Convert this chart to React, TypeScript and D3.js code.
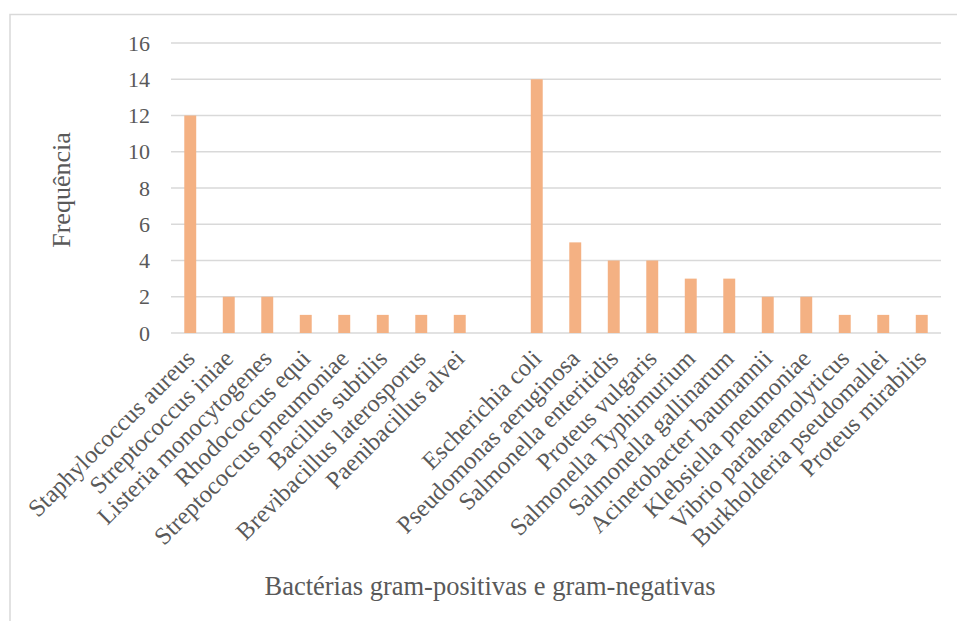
import React from "react";
import * as d3 from "d3";

const categories: string[] = [
  "Staphylococcus aureus",
  "Streptococcus iniae",
  "Listeria monocytogenes",
  "Rhodococcus equi",
  "Streptococcus pneumoniae",
  "Bacillus subtilis",
  "Brevibacillus laterosporus",
  "Paenibacillus alvei",
  "",
  "Escherichia coli",
  "Pseudomonas aeruginosa",
  "Salmonella enteritidis",
  "Proteus vulgaris",
  "Salmonella Typhimurium",
  "Salmonella gallinarum",
  "Acinetobacter baumannii",
  "Klebsiella pneumoniae",
  "Vibrio parahaemolyticus",
  "Burkholderia pseudomallei",
  "Proteus mirabilis",
];

const values: (number | null)[] = [12, 2, 2, 1, 1, 1, 1, 1, null, 14, 5, 4, 4, 3, 3, 2, 2, 1, 1, 1];

const yTicks: number[] = [0, 2, 4, 6, 8, 10, 12, 14, 16];

const yTitle = "Frequência";
const xTitle = "Bactérias gram-positivas e gram-negativas";

const W = 957;
const H = 621;
const plotLeft = 171;
const plotRight = 941;
const plotTop = 43;
const plotBottom = 333;

const textColor = "#595959";
const gridColor = "#D9D9D9";
const barColor = "#F4B183";
const font = "Liberation Serif";

export default function App() {
  const x = d3
    .scaleBand<number>()
    .domain(categories.map((_, i) => i))
    .range([plotLeft, plotRight])
    .paddingInner(0)
    .paddingOuter(0);
  const y = d3.scaleLinear().domain([0, 16]).range([plotBottom, plotTop]);
  const barW = x.bandwidth() * 0.31;

  return (
    <svg
      width={W}
      height={H}
      style={{ position: "absolute", left: 0, top: 0, background: "#fff" }}
    >
      <rect x={10} y={14.5} width={W + 20} height={H + 20} fill="#fff" stroke={gridColor} strokeWidth={1.5} />
      {yTicks.map((t) => (
        <g key={t}>
          <line x1={plotLeft} x2={plotRight} y1={y(t)} y2={y(t)} stroke={gridColor} strokeWidth={1.5} />
          <text x={150} y={y(t) + 7.5} textAnchor="end" fontSize={22} fill={textColor} style={{ fontFamily: font }}>
            {t}
          </text>
        </g>
      ))}
      {values.map((v, i) =>
        v == null ? null : (
          <rect
            key={i}
            x={(x(i) as number) + x.bandwidth() / 2 - barW / 2}
            y={y(v)}
            width={barW}
            height={y(0) - y(v)}
            fill={barColor}
          />
        )
      )}
      {categories.map((c, i) => {
        const cx = (x(i) as number) + x.bandwidth() / 2 + 6;
        const cy = 360;
        return (
          <text
            key={i}
            transform={`translate(${cx},${cy}) rotate(-45)`}
            textAnchor="end"
            fontSize={24.5}
            fill={textColor}
            style={{ fontFamily: font }}
          >
            {c}
          </text>
        );
      })}
      <text
        transform={`translate(70,190) rotate(-90)`}
        textAnchor="middle"
        fontSize={26}
        fill={textColor}
        style={{ fontFamily: font }}
      >
        {yTitle}
      </text>
      <text x={490} y={595} textAnchor="middle" fontSize={26.5} fill={textColor} style={{ fontFamily: font }}>
        {xTitle}
      </text>
    </svg>
  );
}
